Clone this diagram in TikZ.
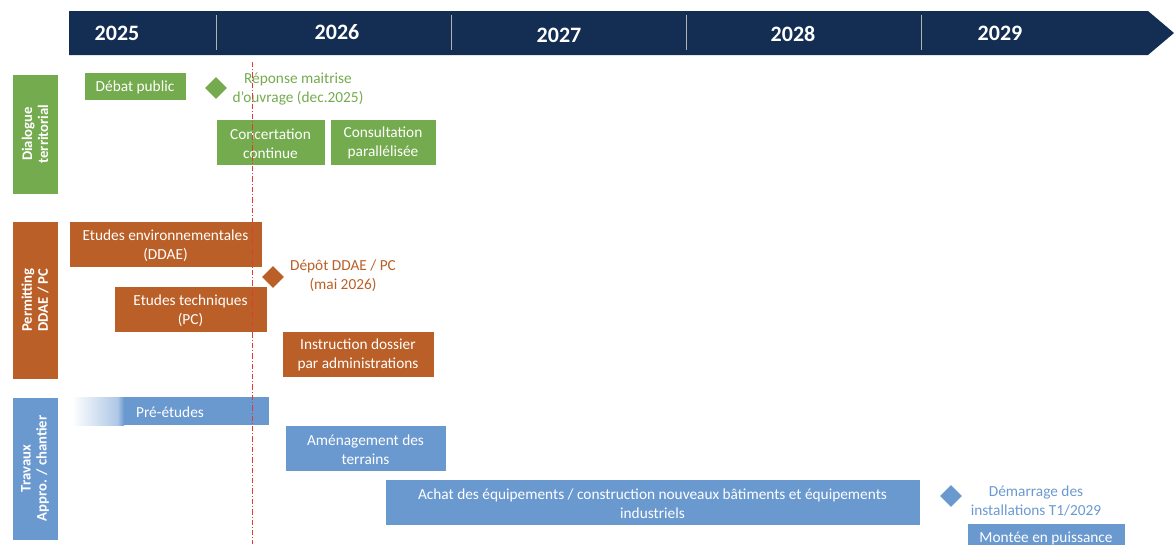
\documentclass[tikz,border=0pt]{standalone}
\usepackage{fontspec}
\setmainfont{Carlito}
\usetikzlibrary{shapes.geometric,fit}
\definecolor{navy}{HTML}{132D53}
\definecolor{gr}{HTML}{74AB4E}
\definecolor{orng}{HTML}{BA5F27}
\definecolor{bl}{HTML}{6A99D0}
\definecolor{redl}{HTML}{E23A33}
\tikzset{
  bar/.style={inner sep=0pt, outer sep=0pt, draw=white, line width=0.6pt},
  gbar/.style={bar, fill=gr},
  obar/.style={bar, fill=orng},
  bbar/.style={bar, fill=bl},
  wtxt/.style={text=white, align=center, font=\fontsize{11.5}{14.3}\selectfont, inner sep=0pt},
  ctxt/.style={align=center, font=\fontsize{11.5}{14.3}\selectfont, inner sep=0pt},
  year/.style={text=white, font=\fontsize{16.5}{18}\selectfont\bfseries, inner sep=0pt},
  cat/.style={text=white, align=center, rotate=90, font=\fontsize{11}{12}\selectfont\bfseries, inner sep=0pt},
  milestone/.style={diamond, minimum size=16.5pt, inner sep=0pt},
  divider/.style={draw=gray!60, line width=0.6pt},
}
\begin{document}
\begin{tikzpicture}[x=0.75pt,y=-0.75pt]
\useasboundingbox (0,0) rectangle (1175,544);
% header arrow
\fill[navy] (69,11) -- (1148,11) -- (1174,33) -- (1148,55) -- (69,55) -- cycle;
\coordinate (d1t) at (216,15); \coordinate (d1b) at (216,50);
\coordinate (d2t) at (451,15); \coordinate (d2b) at (451,50);
\coordinate (d3t) at (686,15); \coordinate (d3b) at (686,50);
\coordinate (d4t) at (921,15); \coordinate (d4b) at (921,50);
\draw[divider] (d1t) -- (d1b);
\draw[divider] (d2t) -- (d2b);
\draw[divider] (d3t) -- (d3b);
\draw[divider] (d4t) -- (d4b);
\node[year] (y25) at (117,33) {2025};
\node[year] (y26) at (337,32) {2026};
\node[year] (y27) at (559,35) {2027};
\node[year] (y28) at (793,34) {2028};
\node[year] (y29) at (1000,33) {2029};
% category bars
\node[gbar, fit={(12,74)(58,194)}] (c1) {};
\node[cat] at (c1.center) {Dialogue\\territorial};
\node[obar, fit={(12,221)(58,379)}] (c2) {};
\node[cat] at (c2.center) {Permitting\\DDAE / PC};
\node[bbar, fit={(12,397)(58,540)}] (c3) {};
\node[cat] at (c3.center) {Travaux\\Appro. / chantier};
% dialogue
\node[gbar, fit={(84,72)(186,100)}] (deb) {};
\node[wtxt] at ([yshift=-1pt]deb.center) {Débat public};
\node[milestone, fill=gr] (m1) at (216,88) {};
\node[ctxt, text=gr] (m1t) at (298,89) {Réponse maitrise\\d’ouvrage (dec.2025)};
\node[gbar, fit={(216,119)(325,165)}] (conc) {};
\node[wtxt] at ([yshift=-1pt]conc.center) {Concertation\\continue};
\node[gbar, fit={(330,119)(436,165)}] (cons) {};
\node[wtxt] at ([yshift=-1pt]cons.center) {Consultation\\parallélisée};
% permitting
\node[obar, fit={(69,221)(262,267)}] (env) {};
\node[wtxt] at ([yshift=-1pt]env.center) {Etudes environnementales\\(DDAE)};
\node[milestone, fill=orng] (m2) at (273,277) {};
\node[ctxt, text=orng] (m2t) at (343,276) {Dépôt DDAE / PC\\(mai 2026)};
\node[obar, fit={(114,286)(267,332)}] (tech) {};
\node[wtxt] at ([yshift=-1pt]tech.center) {Etudes techniques\\(PC)};
\node[obar, fit={(282,331)(434,377)}] (instr) {};
\node[wtxt] at ([yshift=-1pt]instr.center) {Instruction dossier\\par administrations};
% travaux
\shade[left color=white, right color=bl!55] (72,397) rectangle (118,425);
\shade[left color=bl!55, right color=bl] (117.5,397) rectangle (124,425);
\fill[bl] (123.5,397) rectangle (269,425);
\coordinate (pre) at (170,411);
\node[wtxt] (pret) at ([yshift=-1pt]pre) {Pré-études};
\node[bbar, fit={(285,425)(446,471)}] (amen) {};
\node[wtxt] at ([yshift=-1pt]amen.center) {Aménagement des\\terrains};
\node[bbar, fit={(385,479)(920,525)}] (achat) {};
\node[wtxt] at ([yshift=-1pt]achat.center) {Achat des équipements / construction nouveaux bâtiments et équipements\\industriels};
\node[milestone, fill=bl] (m3) at (951,496) {};
\node[ctxt, text=bl] (m3t) at (1036,501) {Démarrage des\\installations T1/2029};
\node[bbar, fit={(967,523)(1125,552)}] (mont) {};
\node[wtxt] at (1046,538) {Montée en puissance};
% today line
\coordinate (tt) at (252,62); \coordinate (tb) at (252,544);
\draw[redl, line width=0.6pt, dash pattern=on 4pt off 1.5pt on 0.8pt off 1.5pt] (tt) -- (tb);
\end{tikzpicture}
\end{document}
